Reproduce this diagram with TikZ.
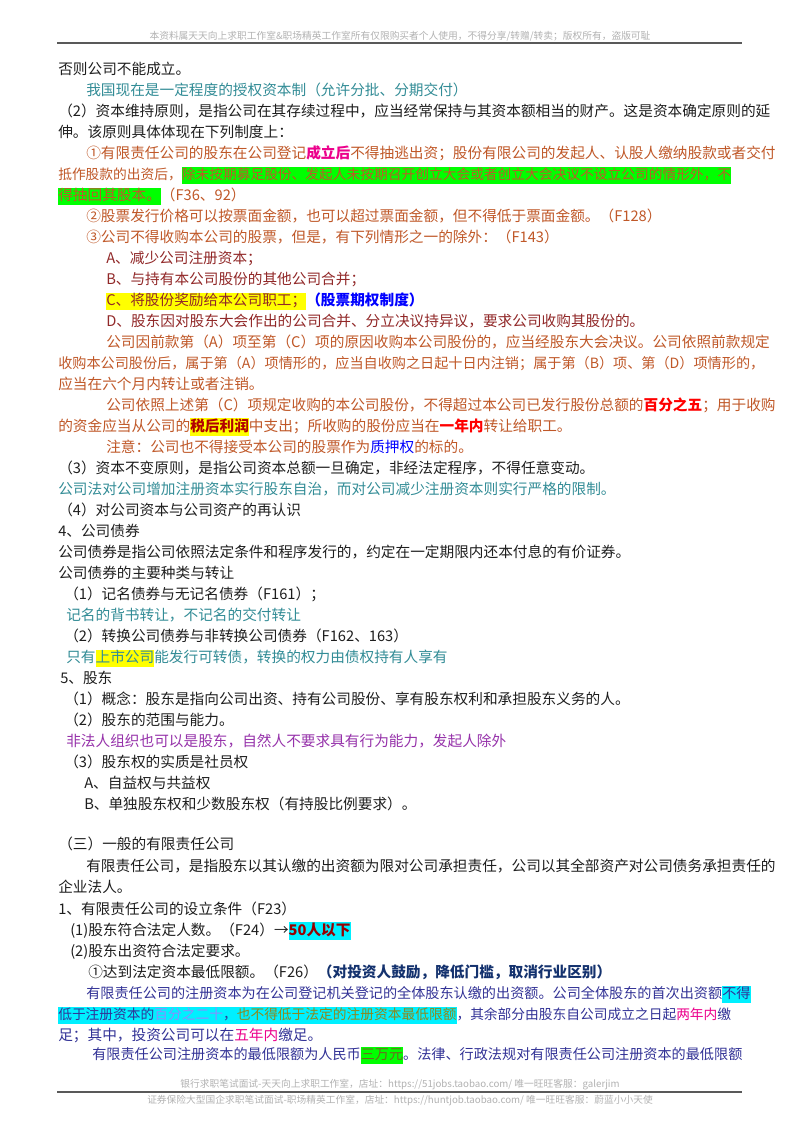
\documentclass[tikz,border=0pt]{standalone}
\usepackage{fontspec}
\setmainfont{Noto Sans CJK SC}
\usepackage{xcolor}
\definecolor{brn}{RGB}{192,88,40}
\definecolor{drd}{RGB}{145,40,40}
\definecolor{tea}{RGB}{50,140,150}
\definecolor{pur}{RGB}{150,50,170}
\definecolor{blu}{RGB}{50,50,150}
\definecolor{nav}{RGB}{20,50,110}
\definecolor{lgr}{RGB}{0,255,0}
\definecolor{cya}{RGB}{0,240,255}
\definecolor{yel}{RGB}{255,255,0}
\definecolor{txt}{RGB}{30,30,30}
\newcommand{\hlx}[2]{{\setlength\fboxsep{0pt}\colorbox{#1}{\strut #2}}}
\begin{document}
\begin{tikzpicture}[x=0.75pt,y=-0.75pt,
  ln/.style={anchor=base west,inner sep=0pt,font=\fontsize{11}{13}\selectfont,text=txt},
  sm/.style={font=\fontsize{10.6}{13}\selectfont},
  xs/.style={font=\fontsize{10.3}{13}\selectfont},
  hd/.style={anchor=base,inner sep=0pt,font=\fontsize{7.3}{9}\selectfont,text=black!30},
  rule/.style={draw=black!65,line width=1.2pt}]
\useasboundingbox (0,0) rectangle (800,1132);
\fill[white] (0,0) rectangle (800,1132);
\node[hd] (h) at (400,39) {本资料属天天向上求职工作室\&职场精英工作室所有仅限购买者个人使用，不得分享/转赠/转卖；版权所有，盗版可耻};
\coordinate (r1a) at (57,43); \coordinate (r1b) at (742,43);
\draw[rule] (r1a) -- (r1b);
\node[ln] (l0) at (58,{69+21*0+5}) {否则公司不能成立。};
\node[ln,text=tea] (l1) at (86,{69+21*1+5}) {我国现在是一定程度的授权资本制（允许分批、分期交付）};
\node[ln] (l2) at (58,{69+21*2+5}) {（2）资本维持原则，是指公司在其存续过程中，应当经常保持与其资本额相当的财产。这是资本确定原则的延};
\node[ln] (l3) at (58,{69+21*3+5}) {伸。该原则具体体现在下列制度上：};
\node[ln,text=brn] (l4) at (86,{69+21*4+5}) {①有限责任公司的股东在公司登记\textbf{\textcolor{magenta}{成立后}}不得抽逃出资；股份有限公司的发起人、认股人缴纳股款或者交付};
\node[ln,xs,text=brn] (l5) at (58,{69+21*5+5}) {抵作股款的出资后，\hlx{lgr}{除未按期募足股份、发起人未按期召开创立大会或者创立大会决议不设立公司的情形外，不}};
\node[ln,text=brn] (l6) at (58,{69+21*6+5}) {\hlx{lgr}{得抽回其股本。}（F36、92）};
\node[ln,text=brn] (l7) at (86,{69+21*7+5}) {②股票发行价格可以按票面金额，也可以超过票面金额，但不得低于票面金额。（F128）};
\node[ln,text=brn] (l8) at (86,{69+21*8+5}) {③公司不得收购本公司的股票，但是，有下列情形之一的除外：（F143）};
\node[ln,text=drd] (l9) at (106,{69+21*9+5}) {A、减少公司注册资本；};
\node[ln,text=drd] (l10) at (106,{69+21*10+5}) {B、与持有本公司股份的其他公司合并；};
\node[ln,text=drd] (l11) at (106,{69+21*11+5}) {\hlx{yel}{C、将股份奖励给本公司职工；}\textbf{\textcolor{blue}{（股票期权制度）}}};
\node[ln,text=drd] (l12) at (106,{69+21*12+5}) {D、股东因对股东大会作出的公司合并、分立决议持异议，要求公司收购其股份的。};
\node[ln,text=brn] (l13) at (106,{69+21*13+5}) {公司因前款第（A）项至第（C）项的原因收购本公司股份的，应当经股东大会决议。公司依照前款规定};
\node[ln,sm,text=brn] (l14) at (58,{69+21*14+5}) {收购本公司股份后，属于第（A）项情形的，应当自收购之日起十日内注销；属于第（B）项、第（D）项情形的，};
\node[ln,text=brn] (l15) at (58,{69+21*15+5}) {应当在六个月内转让或者注销。};
\node[ln,text=brn] (l16) at (106,{69+21*16+5}) {公司依照上述第（C）项规定收购的本公司股份，不得超过本公司已发行股份总额的\textbf{\textcolor{red}{百分之五}}；用于收购};
\node[ln,text=brn] (l17) at (58,{69+21*17+5}) {的资金应当从公司的\hlx{yel}{\textbf{\textcolor{red!70!black}{税后利润}}}中支出；所收购的股份应当在\textbf{\textcolor{red}{一年内}}转让给职工。};
\node[ln,text=brn] (l18) at (106,{69+21*18+5}) {注意：公司也不得接受本公司的股票作为\textcolor{blue}{质押权}的标的。};
\node[ln] (l19) at (58,{69+21*19+5}) {（3）资本不变原则，是指公司资本总额一旦确定，非经法定程序，不得任意变动。};
\node[ln,text=tea] (l20) at (58,{69+21*20+5}) {公司法对公司增加注册资本实行股东自治，而对公司减少注册资本则实行严格的限制。};
\node[ln] (l21) at (58,{69+21*21+5}) {（4）对公司资本与公司资产的再认识};
\node[ln] (l22) at (58,{69+21*22+5}) {4、公司债券};
\node[ln] (l23) at (58,{69+21*23+5}) {公司债券是指公司依照法定条件和程序发行的，约定在一定期限内还本付息的有价证券。};
\node[ln] (l24) at (58,{69+21*24+5}) {公司债券的主要种类与转让};
\node[ln] (l25) at (64,{69+21*25+5}) {（1）记名债券与无记名债券（F161）；};
\node[ln,text=tea] (l26) at (66,{69+21*26+5}) {记名的背书转让，不记名的交付转让};
\node[ln] (l27) at (64,{69+21*27+5}) {（2）转换公司债券与非转换公司债券（F162、163）};
\node[ln,text=tea] (l28) at (66,{69+21*28+5}) {只有\hlx{yel}{上市公司}能发行可转债，转换的权力由债权持有人享有};
\node[ln] (l29) at (60,{69+21*29+5}) {5、股东};
\node[ln] (l30) at (64,{69+21*30+5}) {（1）概念：股东是指向公司出资、持有公司股份、享有股东权利和承担股东义务的人。};
\node[ln] (l31) at (64,{69+21*31+5}) {（2）股东的范围与能力。};
\node[ln,text=pur] (l32) at (66,{69+21*32+5}) {非法人组织也可以是股东，自然人不要求具有行为能力，发起人除外};
\node[ln] (l33) at (64,{69+21*33+5}) {（3）股东权的实质是社员权};
\node[ln] (l34) at (84,{69+21*34+5}) {A、自益权与共益权};
\node[ln] (l35) at (84,{69+21*35+5}) {B、单独股东权和少数股东权（有持股比例要求）。};
\node[ln] (l37) at (58,{69+21*37+3}) {（三）一般的有限责任公司};
\node[ln] (l38) at (86,{69+21*38+4}) {有限责任公司，是指股东以其认缴的出资额为限对公司承担责任，公司以其全部资产对公司债务承担责任的};
\node[ln] (l39) at (58,{69+21*39+4}) {企业法人。};
\node[ln] (l40) at (58,{69+21*40+5}) {1、有限责任公司的设立条件（F23）};
\node[ln] (l41) at (70,{69+21*41+5}) {(1)股东符合法定人数。（F24）→\hlx{cya}{\textbf{\textcolor{red!60!black}{50人以下}}}};
\node[ln] (l42) at (70,{69+21*42+5}) {(2)股东出资符合法定要求。};
\node[ln] (l43) at (88,{69+21*43+5}) {①达到法定资本最低限额。（F26）\textbf{\textcolor{nav}{（对投资人鼓励，降低门槛，取消行业区别）}}};
\node[ln,sm,text=blu] (l44) at (86,{69+21*44+5}) {有限责任公司的注册资本为在公司登记机关登记的全体股东认缴的出资额。公司全体股东的首次出资额\hlx{cya}{不得}};
\node[ln,xs,text=blu] (l45) at (58,{69+21*45+5}) {\hlx{cya}{低于注册资本的\textcolor{blue!45}{百分之二十}，\textcolor{olive!80!gray}{也不得低于法定的注册资本最低限额}}，其余部分由股东自公司成立之日起\textcolor{magenta}{两年内}缴};
\node[ln,text=blu] (l46) at (58,{69+21*46+5}) {足；其中，投资公司可以在\textcolor{magenta}{五年内}缴足。};
\node[ln,sm,text=blu] (l47) at (92,{69+21*47+3}) {有限责任公司注册资本的最低限额为人民币\hlx{lgr}{\textcolor{olive!70!black}{三万元}}。法律、行政法规对有限责任公司注册资本的最低限额};
\node[hd] (f1) at (400,1087) {银行求职笔试面试-天天向上求职工作室，店址：https://51jobs.taobao.com/ 唯一旺旺客服：galerjim};
\coordinate (r2a) at (57,1092); \coordinate (r2b) at (742,1092);
\draw[rule] (r2a) -- (r2b);
\node[hd] (f2) at (400,1103) {证券保险大型国企求职笔试面试-职场精英工作室，店址：https://huntjob.taobao.com/ 唯一旺旺客服：蔚蓝小小天使};
\end{tikzpicture}
\end{document}
